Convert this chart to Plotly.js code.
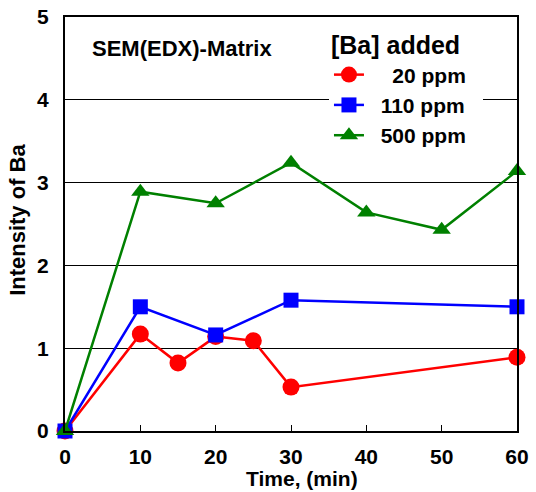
<!DOCTYPE html>
<html><head><meta charset="utf-8">
<script src="https://cdn.plot.ly/plotly-3.0.1.min.js"></script>
<style>body{margin:0;background:#fff}#c{width:536px;height:492px}</style>
</head><body><div id="c"></div>
<script>
const redX = [0, 10, 15, 20, 25, 30, 60];
const redY = [0, 1.17, 0.82, 1.14, 1.09, 0.53, 0.89];
const blueX = [0, 10, 20, 30, 60];
const blueY = [0, 1.50, 1.16, 1.58, 1.50];
const greenX = [0, 10, 20, 30, 40, 50, 60];
const greenY = [0, 2.89, 2.75, 3.24, 2.64, 2.43, 3.14];
const names = ['\u00a0\u00a0\u00a0\u00a020 ppm\u00a0\u00a0', '\u00a0\u00a0110 ppm\u00a0\u00a0', '\u00a0\u00a0500 ppm\u00a0\u00a0'];
const xTicks = [0, 10, 20, 30, 40, 50, 60];
const yTicks = [0, 1, 2, 3, 4, 5];

const F = 'Liberation Sans, Arial, sans-serif';
const traces = [
  {x: redX, y: redY, name: names[0], mode: 'lines+markers', cliponaxis: false,
   line: {color: '#ff0000', width: 2.5}, marker: {symbol: 'circle', size: 17, color: '#ff0000'}},
  {x: blueX, y: blueY, name: names[1], mode: 'lines+markers', cliponaxis: false,
   line: {color: '#0000ff', width: 2.5}, marker: {symbol: 'square', size: 15, color: '#0000ff'}},
  {x: greenX, y: greenY, name: names[2], mode: 'lines+markers', cliponaxis: false,
   line: {color: '#008000', width: 2.5}, marker: {symbol: 'triangle-up', size: 16, color: '#008000'}}
];
const layout = {
  width: 536, height: 492,
  margin: {l: 65, r: 19, t: 17, b: 61},
  paper_bgcolor: '#fff', plot_bgcolor: '#fff',
  font: {family: F, color: '#000'},
  showlegend: true,
  legend: {x: 0.584, y: 0.988, xanchor: 'left', yanchor: 'top', bgcolor: '#fff',
    font: {family: F, size: 21, color: '#000', weight: 'bold'},
    title: {text: '<b>[Ba] added</b>', side: 'top', font: {family: F, size: 25, color: '#000'}},
    tracegroupgap: 0, itemwidth: 30},
  xaxis: {range: [0, 60], tickvals: xTicks, ticks: 'inside', ticklen: 6, tickcolor: '#000',
    showgrid: false, zeroline: false, showline: true, mirror: true, linecolor: '#000', linewidth: 2,
    ticklabelstandoff: 6,
    tickfont: {family: F, size: 21, color: '#000', weight: 'bold'}},
  yaxis: {range: [0, 5], tickvals: yTicks, ticks: '', showgrid: true, gridcolor: '#000', gridwidth: 1,
    zeroline: false, showline: true, mirror: true, linecolor: '#000', linewidth: 2,
    ticklabelstandoff: 10,
    tickfont: {family: F, size: 21, color: '#000', weight: 'bold'}},
  annotations: [
    {xref: 'paper', yref: 'paper', x: 0.055, y: 0.925, xanchor: 'left', yanchor: 'middle',
     showarrow: false, text: '<b>SEM(EDX)-Matrix</b>', font: {family: F, size: 22, color: '#000'}},
    {xref: 'paper', yref: 'paper', x: 0.524, y: -0.1473, xanchor: 'center', yanchor: 'bottom',
     showarrow: false, text: '<b>Time, (min)</b>', font: {family: F, size: 21, color: '#000'}},
    {xref: 'paper', yref: 'paper', x: -0.104, y: 0.51, xanchor: 'center', yanchor: 'middle', textangle: -90,
     showarrow: false, text: '<b>Intensity of Ba</b>', font: {family: F, size: 22, color: '#000'}}
  ]
};
Plotly.newPlot('c', traces, layout, {staticPlot: true});
</script></body></html>
